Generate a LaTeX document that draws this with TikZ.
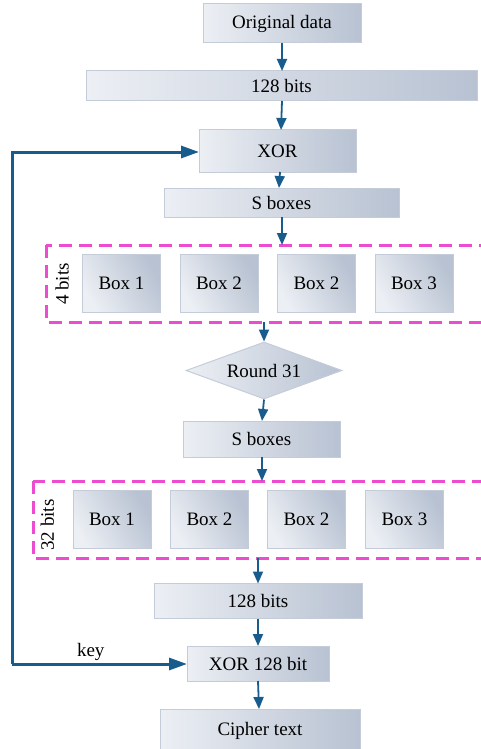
\documentclass[tikz,border=0pt]{standalone}
\usepackage{fontspec}
\setmainfont{Liberation Serif}
\newfontfamily\tnrfont{Liberation Serif}
\usetikzlibrary{shapes.geometric,arrows.meta}
\definecolor{flowblue}{RGB}{24,92,142}
\definecolor{dashpink}{RGB}{238,76,208}
\definecolor{boxborder}{RGB}{196,204,218}
\definecolor{boxlight}{RGB}{236,239,244}
\definecolor{boxdark}{RGB}{184,194,210}
\begin{document}
\begin{tikzpicture}[x=1pt,y=-1pt,
  font=\tnrfont\fontsize{19}{22}\selectfont,
  pbox/.style={rectangle, draw=boxborder, line width=1pt, left color=boxlight, right color=boxdark, inner sep=0pt, outer sep=0pt},
  sbox/.style={pbox, shading angle=120, minimum width=78pt, minimum height=58pt},
  flow/.style={draw=flowblue, line width=1.8pt, -{Triangle[length=12pt,width=10pt]}},
  loop/.style={draw=flowblue, line width=3pt, -{Triangle[length=18pt,width=12pt]}},
  dashframe/.style={draw=dashpink, line width=3pt, dash pattern=on 13pt off 7pt}]
\useasboundingbox (0,0) rectangle (481,749);
% main column
\node[pbox, minimum width=158pt, minimum height=39pt] (orig) at (282,23.5) {Original data};
\node[pbox, minimum width=391pt, minimum height=30pt] (b128a) at (281.5,86) {128 bits};
\node[pbox, minimum width=157pt, minimum height=42pt] (xor1) at (277.5,151) {XOR};
\node[pbox, minimum width=235pt, minimum height=29pt] (sbox1) at (281.5,202.5) {S boxes};
% frame 1
\draw[dashframe] (46,245) rectangle (492,322);
\coordinate (f1top) at (282,245);
\coordinate (f1bot) at (264,322);
\node[rotate=90] (lab4) at (62,284) {4 bits};
\node[sbox] (b11) at (121.5,283.5) {Box 1};
\node[sbox] (b12) at (219,283.5) {Box 2};
\node[sbox] (b13) at (316.5,283.5) {Box 2};
\node[sbox] (b14) at (414,283.5) {Box 3};
\node[diamond, draw=boxborder, line width=1pt, left color=boxlight, right color=boxdark, inner sep=0pt, minimum width=156pt, minimum height=57pt, aspect=2.7] (round) at (264,370.5) {Round 31};
\node[pbox, minimum width=157pt, minimum height=36pt] (sbox2) at (261.5,439) {S boxes};
% frame 2
\draw[dashframe] (33,481) rectangle (492,558);
\coordinate (f2top) at (262,481);
\coordinate (f2bot) at (258,558);
\node[rotate=90] (lab32) at (47.5,525) {32 bits};
\node[sbox] (b21) at (112,519.5) {Box 1};
\node[sbox] (b22) at (209.5,519.5) {Box 2};
\node[sbox] (b23) at (306.5,519.5) {Box 2};
\node[sbox] (b24) at (404.5,519.5) {Box 3};
\node[pbox, minimum width=208pt, minimum height=35pt] (b128b) at (258,601) {128 bits};
\node[pbox, minimum width=142pt, minimum height=35pt] (xor2) at (258,663.5) {XOR 128 bit};
\node[pbox, minimum width=200pt, minimum height=44pt] (cipher) at (260,731) {Cipher text};
% connectors
\draw[flow] (orig.south) -- (b128a.north -| orig.south);
\draw[flow] (b128a.south -| 282,0) -- (xor1.north -| 281,0);
\draw[flow] (xor1.south -| 280,0) -- (sbox1.north -| 279,0);
\draw[flow] (sbox1.south -| f1top) -- (f1top);
\draw[flow] (f1bot) -- (round.north);
\draw[flow] (round.south) -- (sbox2.north -| 262,0);
\draw[flow] (sbox2.south -| f2top) -- (f2top);
\draw[flow] (f2bot) -- (b128b.north -| f2bot);
\draw[flow] (b128b.south) -- (xor2.north);
\draw[flow] (xor2.south) -- (cipher.north -| 259,0);
% key loop
\coordinate (kcorner) at (12,664);
\draw[loop] (kcorner) -- node[pos=0.45, above=-1pt] (keylab) {key} (xor2.west |- kcorner);
\draw[loop] (kcorner) |- (xor1.west |- 0,152);
\end{tikzpicture}
\end{document}
